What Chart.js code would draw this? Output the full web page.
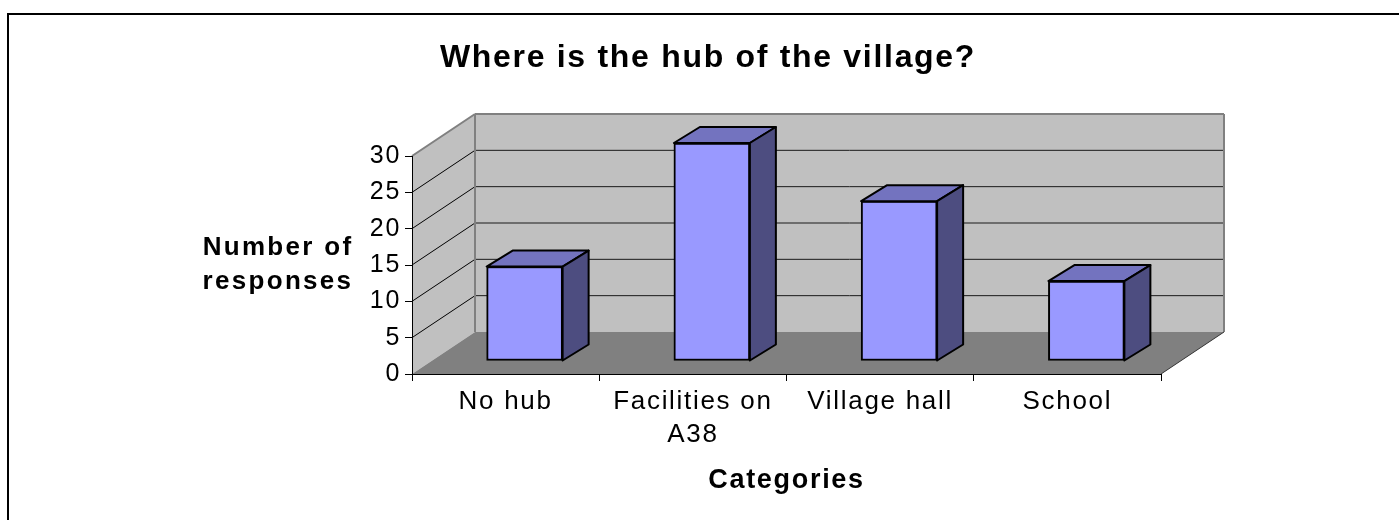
<!DOCTYPE html>
<html>
<head>
<meta charset="utf-8">
<title>Where is the hub of the village?</title>
<script src="https://cdn.jsdelivr.net/npm/chart.js@4"></script>
<style>
    html, body { margin: 0; padding: 0; background: #fff; overflow: hidden; }
    #wrap { width: 1399px; height: 520px; }
</style>
</head>
<body>
<div id="wrap"><canvas id="hubChart" width="1399" height="520"></canvas></div>
<script>
const chartTitle = 'Where is the hub of the village?';
const categories = ['No hub', ['Facilities on', 'A38'], 'Village hall', 'School'];
const responses = [13, 30, 22, 11];
const yTitleLines = ['Number of', 'responses'];
const xTitle = 'Categories';
const yMax = 30;
const yStep = 5;

const FONT = '"Liberation Sans", Arial, sans-serif';
const WALL_DEPTH = { x: 63, y: -42 };
const BAR_SHIFT = { x: 19, y: -13 };
const BAR_DEPTH = { x: 26, y: -16 };

function fillPoly(ctx, pts, fill) {
    ctx.beginPath();
    pts.forEach((p, i) => (i ? ctx.lineTo(p[0], p[1]) : ctx.moveTo(p[0], p[1])));
    ctx.closePath();
    ctx.fillStyle = fill;
    ctx.fill();
}

function strokeLine(ctx, x1, y1, x2, y2, color, width) {
    ctx.beginPath();
    ctx.moveTo(x1, y1);
    ctx.lineTo(x2, y2);
    ctx.strokeStyle = color;
    ctx.lineWidth = width;
    ctx.stroke();
}

// frame, walls and floor go behind everything the library draws
const backdrop = {
    id: 'backdrop',
    beforeDraw(chart) {
        const { ctx, chartArea: a, scales } = chart;
        const dx = WALL_DEPTH.x, dy = WALL_DEPTH.y;
        // the original text is stretched wide, spacing gets it close
        ctx.letterSpacing = '1.7px';

        ctx.save();
        strokeLine(ctx, 8, 520, 8, 14, '#000', 2);
        strokeLine(ctx, 7, 14, 1399, 14, '#000', 2);

        fillPoly(ctx, [[a.left, a.bottom], [a.left + dx, a.bottom + dy], [a.left + dx, a.top + dy], [a.left, a.top]], '#c0c0c0');
        fillPoly(ctx, [[a.left + dx, a.top + dy], [a.right + dx, a.top + dy], [a.right + dx, a.bottom + dy], [a.left + dx, a.bottom + dy]], '#c0c0c0');
        fillPoly(ctx, [[a.left, a.bottom], [a.right, a.bottom], [a.right + dx, a.bottom + dy], [a.left + dx, a.bottom + dy]], '#808080');

        scales.y.ticks.forEach(t => {
            if (t.value === 0 || t.value === yMax) return;
            const y = scales.y.getPixelForValue(t.value);
            strokeLine(ctx, a.left, y, a.left + dx, y + dy, '#000', 1);
            strokeLine(ctx, a.left + dx, y + dy, a.right + dx, y + dy, '#1a1a1a', 1);
        });

        strokeLine(ctx, a.left, a.top, a.left + dx, a.top + dy, '#808080', 2);
        strokeLine(ctx, a.left + dx, a.top + dy, a.right + dx, a.top + dy, '#808080', 2);
        strokeLine(ctx, a.left + dx, a.top + dy, a.left + dx, a.bottom + dy, '#808080', 2);
        strokeLine(ctx, a.right + dx, a.top + dy, a.right + dx, a.bottom + dy, '#808080', 2);
        strokeLine(ctx, a.right, a.bottom, a.right + dx, a.bottom + dy, '#333', 1);
        ctx.restore();
    }
};

// moves the library's bars onto the floor and adds the top and side faces
const bars3d = {
    id: 'bars3d',
    beforeDatasetDraw(chart) {
        chart.ctx.save();
        chart.ctx.translate(BAR_SHIFT.x, BAR_SHIFT.y);
    },
    afterDatasetDraw(chart, args) {
        const { ctx } = chart;
        const dx = BAR_DEPTH.x, dy = BAR_DEPTH.y;
        args.meta.data.forEach(bar => {
            const l = bar.x - bar.width / 2, r = bar.x + bar.width / 2;
            const t = bar.y, b = bar.base;
            const top = [[l, t], [r, t], [r + dx, t + dy], [l + dx, t + dy]];
            const side = [[r, t], [r + dx, t + dy], [r + dx, b + dy], [r, b]];
            [[top, '#7373bf'], [side, '#4d4d80']].forEach(([pts, fill]) => {
                fillPoly(ctx, pts, fill);
                ctx.strokeStyle = '#000';
                ctx.lineWidth = 2;
                ctx.lineJoin = 'round';
                ctx.stroke();
            });
        });
        ctx.restore();
    }
};

// the value axis title sits level in the original, which scale titles can't do
const yTitle = {
    id: 'yTitle',
    afterDraw(chart) {
        const { ctx } = chart;
        ctx.save();
        ctx.letterSpacing = '2.3px';
        ctx.font = 'bold 26px ' + FONT;
        ctx.fillStyle = '#000';
        ctx.textAlign = 'center';
        ctx.textBaseline = 'middle';
        yTitleLines.forEach((line, i) => ctx.fillText(line, 278, 248 + i * 34));
        ctx.restore();
    }
};

new Chart(document.getElementById('hubChart'), {
    type: 'bar',
    data: {
        labels: categories,
        datasets: [{
            data: responses,
            backgroundColor: '#9999ff',
            borderColor: '#000',
            borderWidth: 2,
            borderSkipped: false,
            barThickness: 76
        }]
    },
    plugins: [backdrop, bars3d, yTitle],
    options: {
        responsive: false,
        animation: false,
        layout: { padding: { left: 255, right: 238, top: 0, bottom: 0 } },
        plugins: {
            legend: { display: false },
            tooltip: { enabled: false },
            title: {
                display: true,
                text: chartTitle,
                color: '#000',
                font: { family: FONT, size: 32, weight: 'bold' },
                padding: { top: 39, bottom: 78.6 }
            }
        },
        scales: {
            x: {
                afterFit(scale) { scale.height = 146; },
                grid: { offset: true, drawOnChartArea: false, color: '#000', tickLength: 7 },
                border: { color: '#000', width: 1 },
                ticks: {
                    color: '#000',
                    font: { family: FONT, size: 26, lineHeight: 1.27 },
                    padding: 4,
                    maxRotation: 0,
                    autoSkip: false
                },
                title: {
                    display: true,
                    text: xTitle,
                    color: '#000',
                    font: { family: FONT, size: 27, weight: 'bold' },
                    padding: { top: 12, bottom: 23 }
                }
            },
            y: {
                min: 0,
                max: yMax,
                afterFit(scale) { scale.width = 157; },
                grid: { drawOnChartArea: false, color: '#000', tickLength: 7 },
                border: { color: '#000', width: 1 },
                ticks: {
                    stepSize: yStep,
                    color: '#000',
                    font: { family: FONT, size: 25 },
                    padding: 4
                }
            }
        }
    }
});
</script>
</body>
</html>
